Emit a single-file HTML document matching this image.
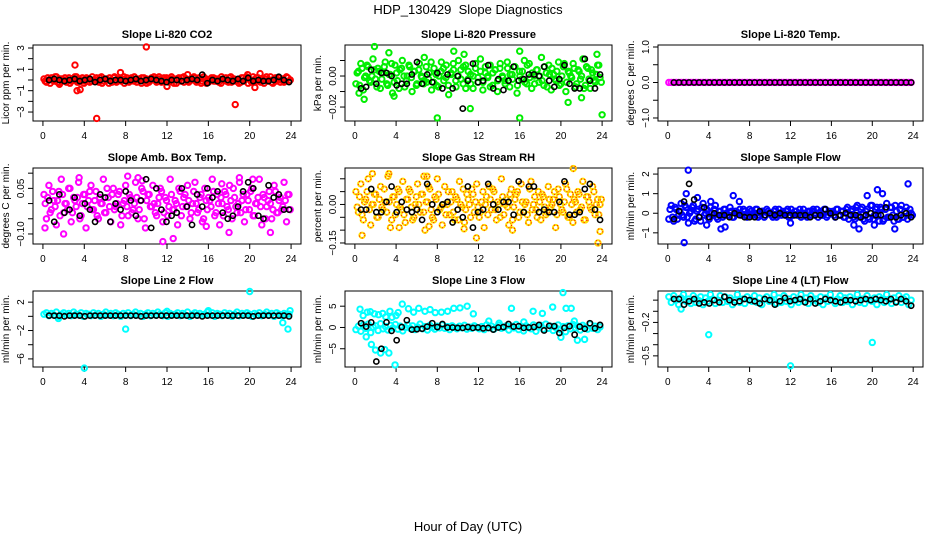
<!DOCTYPE html>
<html><head><meta charset="utf-8"><style>
html,body{margin:0;padding:0;background:#fff;}
svg{display:block;font-family:"Liberation Sans",sans-serif;}
</style></head><body>
<svg id="chart" width="936" height="540" viewBox="0 0 936 540">
<text x="468" y="14" text-anchor="middle" font-size="13">HDP_130429&#160;&#160;Slope Diagnostics</text>
<text x="468" y="531" text-anchor="middle" font-size="13">Hour of Day (UTC)</text>
</svg>
<script>
// ---- data (hours for dense series evenly spaced across the day) ----
const xTicks = [0,4,8,12,16,20,24];
const co2Color = [1,-2,0,2,-1,3,-3,1,0,-2,2,-1,1,3,-2,0,-3,2,1,-1,0,2,-2,3,-1,1,-3,0,2,-2,1,-1,3,0,-2,2,-1,1,0,-3,2,1,-2,0,3,-1,1,-2,2,0,-1,3,-3,1,0,2,-2,1,-1,0,3,-2,2,-1,1,-3,0,2,-1,1,-2,3,0,-1,2,-2,1,0,-3,2,-1,3,1,-2,0,2,-1,1,-3,3,0,-2,1,-1,2,0,-2,3,-1];
const co2ColorB = [-1,2,-3,0,3,-2,1,-1,2,0,-3,1,3,-2,0,2,-1,1,-2,3,0,-1,2,-3,1,0,2,-2,3,-1,0,1,-3,2,-1,0,3,-2,1,2,-1,-3,0,2,1,-2,3,0,-1,2,-2,1,0,-3,2,-1,3,0,-2,1,2,-1,0,-3,3,1,-2,0,2,-1,1,-3,0,2,-2,3,1,-1,0,-2,2,1,-3,0,3,-1,2,-2,0,1,-1,3,-3,2,0,-2,1,-1,2,0];
const co2Black = [0,1,0,-1,0,1,-1,0,1,-2,0,1,-1,0,0,-1,0,1,-1,0,1,0,-1,-2,0,0,-1,0,1,0,5,-3,0,-1,1,0,-1,1,-1,2,-1,0,-1,-1,0,3,0,-2];
const co2OutH = [3.1,3.3,3.6,5.2,7.5,10,18.6,20.5,21,1.6,14,12,19.8];
const co2OutV = [1.4,-1.0,-0.9,-3.6,0.7,3.1,-2.3,-0.7,0.6,-0.4,0.5,-0.6,0.5];

const presColor = [-5,3,8,-9,0,6,-4,11,-2,5,-8,2,9,-6,1,-11,7,-3,4,10,-7,0,6,-10,3,-5,8,-1,12,-4,2,-9,5,-6,0,9,-3,7,-12,1,4,-7,10,-2,6,-8,3,-5,0,8,-4,11,-9,2,-1,7,-6,4,-10,5,0,-3,9,-7,1,6,-11,3,-2,10,-5,8,-8,0,4,-4,12,-6,2,7,-9,1,-3,9,-5,6,-10,3,0,8,-7,4,-2,11,-6,5,-8,2,-4,7,-1];
const presColorB = [2,-6,5,-1,7,-3,0,4,-7,3,-2,6,-5,1,8,-4,2,-8,5,0,-3,7,-1,3,-6,4,0,-5,6,-2,9,-4,1,-7,3,5,-1,-6,2,8,-3,0,4,-5,7,-2,1,-8,5,-1,3,-4,6,0,-7,2,4,-3,8,-1,-5,5,1,-2,6,-6,0,3,-4,7,-1,2,-5,4,0,-3,6,-7,1,5,-2,3,-6,0,8,-4,2,-1,5,-5,3,0,-8,6,-2,4,-3,1,7,-4];
const presBlack = [-8,-7,4,-5,2,2,0,-6,-5,-5,1,9,-5,1,-4,2,-8,1,-8,0,-21,-3,8,-4,-3,7,-8,-2,-9,-3,6,-3,-2,1,1,0,6,-3,-7,-2,7,-5,-8,-8,11,-3,-8,1];
const presOutH = [1.9,3.3,9.6,10.6,16,8,16,24,20.7,23.5,3.8,0.9,22,0.4,11.2];
const presOutV = [0.019,0.015,0.016,0.014,0.016,-0.027,-0.027,-0.025,-0.017,0.014,-0.013,-0.015,-0.014,-0.011,-0.021];

const tempColor = [0,0,0,0,0,0,0,0,0,0,0,0,0,0,0,0,0,0,0,0,0,0,0,0,0,0,0,0,0,0,0,0,0,0,0,0,0,0,0,0,0,0,0,0,0,0,0,0,0,0,0,0,0,0,0,0,0,0,0,0,0,0,0,0,0,0,0,0,0,0,0,0,0,0,0,0,0,0,0,0,0,0,0,0,0,0,0,0,0,0,0,0,0,0,0,0,0,0,0,0];
const tempBlack = [0,0,0,0,0,0,0,0,0,0,0,0,0,0,0,0,0,0,0,0,0,0,0,0,0,0,0,0,0,0,0,0,0,0,0,0,0,0,0,0,0,0,0,0,0,0,0,0];

const ambColor = [3,-5,6,-2,1,-7,4,8,-3,0,5,-6,2,-1,7,-4,3,-8,1,6,-2,4,-5,0,8,-3,2,-6,5,-1,3,-7,0,6,-4,2,-2,7,-5,1,4,-8,3,-1,6,-3,0,5,-6,2,-4,8,-2,1,-7,4,-1,3,6,-5,0,7,-3,2,-6,5,-2,1,8,-4,3,-7,0,4,-1,6,-5,2,-3,7,1,-6,3,-2,5,-4,0,8,-7,2,-1,4,-5,6,-3,1,-2,7,-6,3];
const ambColorB = [0,2,-3,4,-1,1,-4,3,0,-2,5,-3,1,2,-5,0,3,-1,4,-2,1,-4,2,0,-3,5,-1,3,-2,0,4,-4,1,-1,3,-3,0,2,-2,5,-5,1,3,-1,0,-4,2,4,-3,1,-1,3,-2,0,5,-4,2,-1,1,-3,4,0,-2,3,-5,1,2,-1,4,-3,0,2,-4,3,-2,1,5,-1,0,-3,3,-2,1,4,-4,0,2,-1,3,-5,1,0,-2,4,-3,2,-1,1,3,-2];
const ambBlack = [1,-6,3,-3,-2,2,-4,0,-2,-6,3,2,-6,0,-2,4,1,-4,1,8,-8,5,-2,-6,-4,-3,5,-1,-7,3,-1,5,2,4,-3,-5,-4,-1,4,7,5,-4,-5,6,2,3,-2,-2];
const ambOutH = [11.6,12.6,3.5,19,20.3,8.2,9.2,0.2,2,18,22,9.6,17.3,15.8];
const ambOutV = [-0.125,-0.115,0.085,0.085,0.08,0.09,0.085,-0.08,-0.1,-0.095,-0.095,0.075,0.065,-0.075];

const rhColor = [5,-3,8,-6,2,10,-8,0,4,-5,7,-2,1,11,-9,3,-4,6,-1,9,-7,2,5,-6,0,8,-3,4,-10,1,6,-5,3,10,-2,-8,7,0,-4,5,-6,2,9,-1,-7,4,0,6,-3,8,-5,1,-9,3,7,-2,5,-6,0,10,-4,2,-8,6,-1,4,-5,8,-3,1,-7,9,0,-2,5,-6,3,-4,7,-1,2,-9,6,0,-3,8,-5,4,-7,1,5,-2,9,-6,3,-1,7,-4,2,0];
const rhColorB = [-1,3,-4,1,5,-2,0,4,-5,2,-1,6,-3,1,-6,3,0,5,-2,-4,2,6,-1,-5,3,0,4,-3,1,7,-2,-6,2,4,-1,0,-4,5,1,-3,3,-6,0,6,-2,2,-5,4,1,-1,-3,5,0,-4,2,6,-2,1,-5,3,0,-1,4,-6,2,5,-3,1,0,-4,6,-2,3,-5,1,4,-1,-3,2,0,5,-4,3,-2,1,6,-5,0,2,-3,4,-1,-6,3,1,-2,5,0,-4,2];
const rhBlack = [-2,-2,6,-3,-3,1,7,-3,1,-2,-3,-2,-6,8,0,-3,0,1,-7,-2,-5,7,-9,-3,-2,8,0,-2,1,1,-4,9,-3,7,7,-3,-2,-3,-3,1,9,-4,-4,-3,6,8,-2,-6];
const rhOutH = [21.2,0.7,23.6,1.7,3.3,11.8,7,6.7,4.3,15.3,10.6,7.2,23.8];
const rhOutV = [0.14,-0.12,-0.15,0.12,0.12,-0.13,0.11,0.11,-0.09,-0.1,-0.095,-0.085,-0.105];

const sampColor = [-3,4,-4,2,-1,5,-2,3,-5,1,4,-3,2,-4,5,0,-2,3,-1,4,-3,1,-2,2,-1,3,-2,1,0,2,-1,1,-2,2,-1,0,2,-1,1,-2,2,0,-1,1,-2,2,-1,0,1,-2,2,-1,1,0,-2,2,-1,1,-1,2,0,-2,1,-1,2,-1,0,1,-2,2,-1,1,-2,3,-1,2,-3,4,-2,3,-4,2,-3,4,-1,3,-4,2,-3,5,-2,3,-4,1,-3,4,-2,3,-1,0];
const sampColorB = [2,-2,3,-3,1,-1,4,-2,0,3,-4,1,-2,3,-1,2,-3,0,2,-2,1,-1,2,0,-1,1,-2,1,0,-1,2,-1,0,1,-1,2,-2,0,1,-1,1,0,-2,2,-1,0,1,-1,2,-2,0,1,-1,2,-1,0,-2,1,1,-1,2,0,-1,2,-2,1,0,-1,2,-1,1,-2,2,-3,1,-2,3,-1,2,-3,1,-2,4,-3,2,-1,3,-4,2,-2,3,-1,4,-3,2,-2,1,-3,2,-1];
const sampBlack = [-3,1,6,15,7,-2,3,-2,0,-1,-1,-2,0,-1,-2,-2,-2,1,-1,0,-1,0,-1,-1,-1,-1,-1,-2,-1,-1,2,0,-2,-1,0,-1,-1,-2,-1,0,-1,-1,3,-2,-2,-1,0,-2];
const sampOutH = [2,1.6,23.5,20.5,21,6.4,1.8,5.2,5.6,18.7,18.2,20.2,22.2,19.5,7,3.8,12,2.9,4.2];
const sampOutV = [2.2,-1.5,1.5,1.2,1.0,0.9,1.0,-0.8,-0.7,-0.8,-0.6,-0.6,-0.8,0.9,0.6,-0.6,-0.5,0.8,0.6];

const line2Color = [3,5,1,4,2,6,0,3,5,2,4,1,6,3,2,5,0,4,3,1,5,2,4,0,3,6,2,4,1,5,3,0,4,2,5,1,3,6,2,4,0,3,5,1,4,2,6,3,1,5,0,4,2,3,5,1,4,2,6,0,3,5,2,4,1,3,6,2,5,0,4,3,1,5,2,4,0,3,6,1,4,2,5,3,0,4,2,5,1,3,6,2,4,0,5,3,1,4,2,3];
const line2Black = [1,1,1,0,1,1,1,0,1,1,1,1,1,1,1,1,1,1,0,1,1,1,1,1,1,1,1,1,1,1,0,1,1,1,1,1,1,1,1,1,0,1,1,1,1,1,1,0];
const line2OutH = [4,8,12,16,20,23.2,23.7,23.9,1.5];
const line2OutV = [-7.3,-1.8,0.7,0.8,3.5,-0.9,-1.8,0.8,-0.3];

const line3Color = [-5,3,-9,6,-2,8,-12,1,4,-7,9,-3,2,-6,5,-1,7,-4,3,-8,0,6,-2,4,-5,1,8,-3,2,-6,5,0,-4,3,-1,6,-2,2,-5,4,0,-3,3,-1,5,-4,1,-2,4,0,-3,2,-5,6,-1,3,-4,1,5,-2,0,4,-6,3,-1,7,-5,2,-8,4,0,-3,6,-9,1,5,-4,8,-2,3,-7,0,6,-5,2,-10,4,-3,7,-1,3,-6,5,0,-4,8,-2,3,-5,1];
const line3Black = [10,2,12,-80,-50,12,-8,-30,1,17,-5,-4,-3,2,10,1,8,0,0,-1,-1,1,-1,0,-2,-1,-5,0,1,8,2,3,-1,0,1,6,-7,4,3,-13,-1,3,-17,2,-3,10,-2,6];
const line3OutH = [0.5,0.8,1.2,1.5,1.9,2.3,2.7,3.0,3.4,3.6,1.1,1.6,2.0,2.5,2.9,3.3,3.9,4.2,4.6,5.2,5.7,6.2,6.8,7.3,7.8,8.4,9.0,9.6,10.2,10.9,11.5,13.0,14.0,15.2,16.4,17.3,18.2,19.2,20.2,20.5,21.0,21.6,22.3,4.0,20.0,21.3];
const line3OutV = [4.3,2.8,3.6,3.7,3.2,3.0,3.3,2.5,3.8,2.4,-2.2,-4.0,-5.3,-6.0,-5.2,-6.0,-8.8,3.5,5.5,4.4,3.6,4.5,3.8,4.2,3.5,3.6,3.8,4.5,4.6,5.0,3.2,1.5,1.0,4.5,1.3,3.8,3.3,4.8,8.2,4.5,4.5,-3.0,-2.8,2.8,-2.3,1.5];

const line4Color = [3,-2,4,0,-4,2,5,-1,1,-3,4,-2,0,3,-4,2,-1,5,1,-3,0,4,-2,3,-1,2,-4,0,5,-2,1,-3,3,0,-1,4,-2,2,-4,1,3,-1,0,5,-3,2,-2,4,-1,1,-4,3,0,-2,5,-1,2,-3,4,0,1,-2,3,-4,2,-1,5,0,-3,1,4,-2,2,-1,3,-4,0,5,-2,1,-3,4,0,-1,2,-4,3,1,-2,5,0,-3,2,-1,4,-2,1,3,-4,0];
const line4Black = [1,1,-4,-1,1,-3,-2,-3,0,-2,3,0,-2,-1,1,0,-1,-3,1,0,-4,-1,2,-1,0,1,-2,1,-3,-1,1,0,-1,-2,0,0,-1,0,1,0,1,0,-1,1,-2,1,-1,-5];
const line4OutH = [4,12,20,1.3];
const line4OutV = [-0.31,-0.59,-0.38,-0.08];

// ---- layout ----
const NS = "http://www.w3.org/2000/svg";
const svg = document.getElementById('chart');
const colLeft = [33,345,658], colW = [268,267,265];
const rowTop = [45,168,291], boxH = 76;
function mk(tag, attrs, parent){ const e=document.createElementNS(NS,tag); for(const k in attrs) e.setAttribute(k,attrs[k]); (parent||svg).appendChild(e); return e; }

function panel(p){
  const L=colLeft[p.col], W=colW[p.col], T=rowTop[p.row], B=T+boxH;
  const g = mk('g',{});
  
  
  const xs = h => L + (h+0.96)/25.92*W;
  const ys = v => T + (p.yTop - v)/(p.yTop - p.yBot)*boxH;
  const box = mk('rect',{x:L,y:T,width:W,height:boxH,fill:'none',stroke:'#000','stroke-width':1},g);
  
  
  const t = mk('text',{x:L+W/2,y:T-7,'text-anchor':'middle','font-size':11,'font-weight':'bold'},g);
  t.textContent = p.title;
  
  
  xTicks.forEach(h=>{
    mk('line',{x1:xs(h),x2:xs(h),y1:B,y2:B+5,stroke:'#000'},g);
    const l = mk('text',{x:xs(h),y:B+18,'text-anchor':'middle','font-size':10},g);
    l.textContent = h;
    
    
  });
  p.yTicks.forEach(v=>{ mk('line',{x1:L-5,x2:L,y1:ys(v),y2:ys(v),stroke:'#000'},g); });
  p.yLabels.forEach((s,i)=>{
    const v=p.yLabelVals[i], yy=ys(v);
    const l = mk('text',{x:L-9,y:yy,'text-anchor':'middle','font-size':10,transform:`rotate(-90 ${L-9} ${yy})`},g);
    l.textContent = s;
    
    
  });
  const yl = mk('text',{x:L-24,y:T+boxH/2,'text-anchor':'middle','font-size':10,transform:`rotate(-90 ${L-24} ${T+boxH/2})`},g);
  yl.textContent = p.ylab;
  
  
  const drawPt = (h,v,kind)=>{
    if(kind==='black'){
      const c = mk('circle',{cx:xs(h),cy:ys(v),r:2.6,fill:'none',stroke:'#000','stroke-width':1.6},g);
      
      
    } else {
      const c = mk('circle',{cx:xs(h),cy:ys(v),r:2.7,fill:'none',stroke:p.color,'stroke-width':2},g);
      
      
      if(p.color2){ mk('circle',{cx:xs(h),cy:ys(v),r:2.7,fill:'none',stroke:p.color2,'stroke-width':1,'stroke-dasharray':'1,2.5'},g); }
    }
  };
  p.colorSets.forEach((arr,k)=>{
    const n=arr.length, off = 0.1 + k*0.12;
    arr.forEach((v,i)=> drawPt(off + i*23.7/(n-1), v*p.scale, 'color'));
  });
  p.outH.forEach((h,i)=> drawPt(h, p.outV[i], 'color'));
  const m=p.blackVals.length;
  p.blackVals.forEach((v,i)=> drawPt(0.6 + i*23.2/(m-1), v*p.scale, 'black'));
}

panel({name:'panel-co2',col:0,row:0,title:'Slope Li-820 CO2',ylab:'Licor ppm per min.',yTop:3.28,yBot:-3.84,yTicks:[-3,-2,-1,0,1,2,3],yLabels:['\u22123','\u22121','1','3'],yLabelVals:[-3,-1,1,3],color:'#ff0000',scale:0.1,colorSets:[co2Color,co2ColorB],blackVals:co2Black,outH:co2OutH,outV:co2OutV});
panel({name:'panel-pressure',col:1,row:0,title:'Slope Li-820 Pressure',ylab:'kPa per min.',yTop:0.020,yBot:-0.029,yTicks:[-0.02,-0.01,0,0.01],yLabels:['\u22120.02','0.00'],yLabelVals:[-0.02,0],color:'#00ee00',scale:0.001,colorSets:[presColor,presColorB],blackVals:presBlack,outH:presOutH,outV:presOutV});
panel({name:'panel-temp',col:2,row:0,title:'Slope Li-820 Temp.',ylab:'degrees C per min.',yTop:1.056,yBot:-1.085,yTicks:[-1,-0.5,0,0.5,1],yLabels:['\u22121.0','0.0','1.0'],yLabelVals:[-1,0,1],color:'#ff00ff',scale:1,colorSets:[tempColor],blackVals:tempBlack,outH:[],outV:[]});
panel({name:'panel-amb-box',col:0,row:1,title:'Slope Amb. Box Temp.',ylab:'degrees C per min.',yTop:0.117,yBot:-0.133,yTicks:[-0.1,-0.05,0,0.05,0.1],yLabels:['\u22120.10','0.05'],yLabelVals:[-0.1,0.05],color:'#ff00ff',scale:0.01,colorSets:[ambColor,ambColorB],blackVals:ambBlack,outH:ambOutH,outV:ambOutV});
panel({name:'panel-gas-rh',col:1,row:1,title:'Slope Gas Stream RH',ylab:'percent per min.',yTop:0.142,yBot:-0.154,yTicks:[-0.15,-0.1,-0.05,0,0.05,0.1],yLabels:['\u22120.15','0.00'],yLabelVals:[-0.15,0],color:'#ffdd00',color2:'#ff0000',scale:0.01,colorSets:[rhColor,rhColorB],blackVals:rhBlack,outH:rhOutH,outV:rhOutV});
panel({name:'panel-sample-flow',col:2,row:1,title:'Slope Sample Flow',ylab:'ml/min per min.',yTop:2.31,yBot:-1.57,yTicks:[-1,0,1,2],yLabels:['\u22121','0','1','2'],yLabelVals:[-1,0,1,2],color:'#0000ff',scale:0.1,colorSets:[sampColor,sampColorB],blackVals:sampBlack,outH:sampOutH,outV:sampOutV});
panel({name:'panel-line2',col:0,row:2,title:'Slope Line 2 Flow',ylab:'ml/min per min.',yTop:3.57,yBot:-7.14,yTicks:[-6,-4,-2,0,2],yLabels:['\u22126','\u22122','2'],yLabelVals:[-6,-2,2],color:'#00ffff',scale:0.1,colorSets:[line2Color],blackVals:line2Black,outH:line2OutH,outV:line2OutV});
panel({name:'panel-line3',col:1,row:2,title:'Slope Line 3 Flow',ylab:'ml/min per min.',yTop:8.57,yBot:-9.29,yTicks:[-5,0,5],yLabels:['\u22125','0','5'],yLabelVals:[-5,0,5],color:'#00ffff',scale:0.1,colorSets:[line3Color],blackVals:line3Black,outH:line3OutH,outV:line3OutV});
panel({name:'panel-line4',col:2,row:2,title:'Slope Line 4 (LT) Flow',ylab:'ml/min per min.',yTop:0.082,yBot:-0.6,yTicks:[0,-0.1,-0.2,-0.3,-0.4,-0.5],yLabels:['\u22120.2','\u22120.5'],yLabelVals:[-0.2,-0.5],color:'#00ffff',scale:0.01,colorSets:[line4Color],blackVals:line4Black,outH:line4OutH,outV:line4OutV});
</script>
</body></html>
